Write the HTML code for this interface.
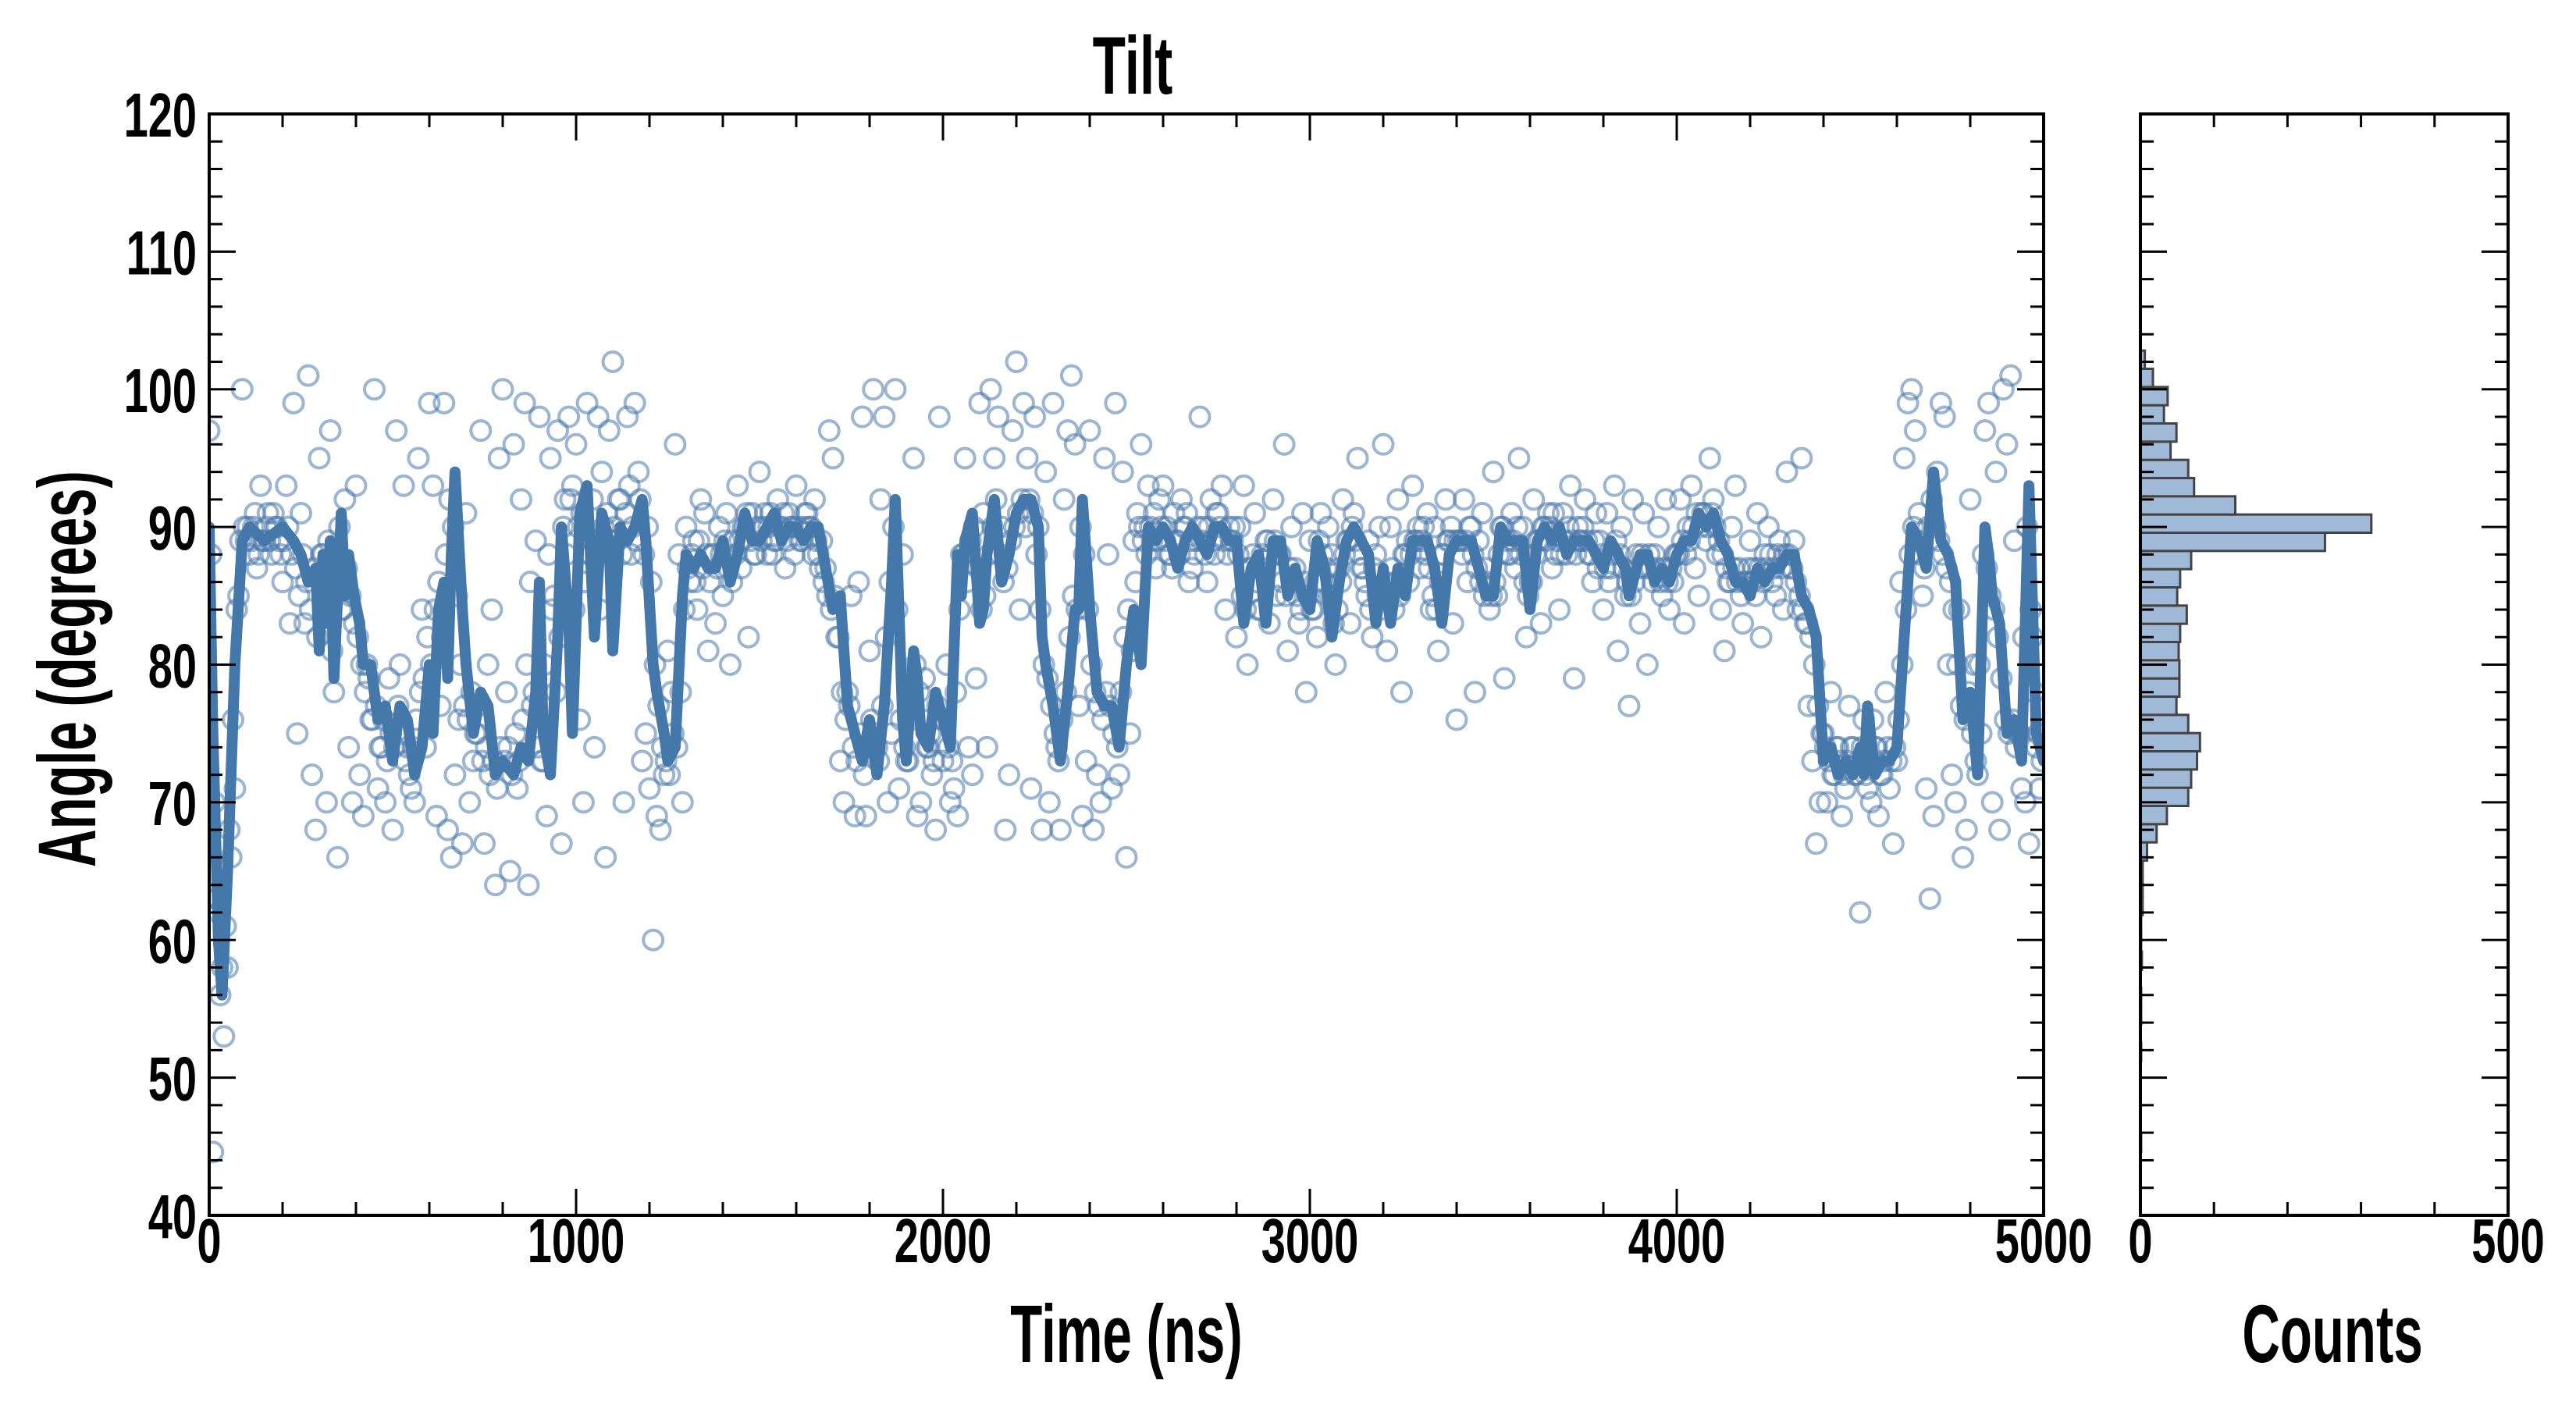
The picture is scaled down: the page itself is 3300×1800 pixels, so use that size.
<!DOCTYPE html>
<html><head><meta charset="utf-8"><style>
html,body{margin:0;padding:0;background:#fff}
svg{display:block}
text{font-family:"Liberation Sans",sans-serif;font-weight:bold;fill:#000}
</style></head>
<body>
<svg id="chart" width="3300" height="1800" viewBox="0 0 3300 1800" xmlns="http://www.w3.org/2000/svg"></svg>
<script>
const scatterStart = 0;
const scatterStep = 10;
const scatterValues = [
97,44.6,63,56,53,58,66,71,85,100,
89,88,90,87,93,89,91,88,90,89,
86,93,83,99,75,91,83,101,72,68,
95,88,70,97,78,66,84,92,74,70,
93,72,69,80,76,100,71,74,70,79,
68,97,80,93,74,71,70,95,84,74,
99,93,69,77,99,68,66,72,76,67,
91,70,73,75,97,67,80,84,64,95,
100,78,65,96,71,92,99,64,77,89,
98,73,69,95,85,97,67,92,98,93,
96,76,70,99,88,74,98,94,66,97,
102,89,92,70,98,88,99,94,73,75,
71,60,69,68,72,81,78,96,88,70,
90,86,89,84,92,91,81,88,83,90,
85,91,80,89,93,87,90,82,91,88,
94,90,88,91,89,92,90,87,91,90,
93,89,90,91,90,92,88,89,87,97,
95,82,73,70,78,85,69,86,98,69,
81,100,74,92,98,70,75,100,71,88,
73,77,95,69,70,79,74,72,68,98,
73,80,70,71,69,88,95,74,72,79,
99,91,74,100,95,98,90,68,72,97,
102,84,99,95,71,98,90,68,94,70,
99,74,68,92,97,101,96,77,69,73,
97,68,72,70,95,88,71,99,72,94,
66,75,89,91,96,90,93,89,87,92,
93,90,88,91,89,92,90,86,87,89,
98,90,86,92,88,91,93,84,90,89,
82,90,93,80,87,91,84,88,89,83,
92,85,88,96,81,90,87,83,91,78,
89,84,82,91,86,90,88,80,87,92,
89,83,91,95,87,86,89,82,88,90,
96,81,90,84,92,78,88,86,93,89,
87,90,91,84,90,81,88,92,89,83,
76,89,92,86,90,78,89,91,87,84,
94,85,90,79,88,91,87,95,90,82,
86,92,89,83,90,91,87,88,84,91,
88,93,79,90,89,92,88,86,91,89,
84,91,87,93,81,90,85,77,92,88,
83,91,80,87,88,90,85,92,84,86,
88,92,83,90,93,87,85,91,89,95,
92,88,84,81,86,90,93,87,83,86,
89,87,91,82,88,90,86,85,89,84,
94,87,89,84,95,83,77,73,67,70,
75,70,78,72,74,69,71,77,74,72,
62,76,71,70,74,69,72,78,71,67,
73,86,95,99,100,97,91,85,71,63,
69,94,99,98,80,72,70,84,66,68,
92,80,72,75,97,99,70,94,68,100,
96,101,89,75,71,70,67,82,74,71
];
const scatter2Start = 5;
const scatter2Step = 10;
const scatter2Values = [
88,70,62,58,61,68,76,84,89,90,
90,89,91,88,89,90,89,91,90,88,
89,90,88,87,85,88,86,84,87,82,
88,85,89,81,86,90,84,87,85,83,
82,80,78,79,76,77,74,76,73,75,
74,77,75,73,72,74,76,78,79,82,
80,84,86,82,88,92,90,85,80,77,
76,78,75,77,73,74,72,73,71,74,
73,74,72,75,73,76,80,86,78,74,
73,80,88,84,78,82,90,88,92,84,
90,91,86,88,92,89,84,90,91,89,
90,92,88,91,93,90,89,92,88,90,
86,80,77,74,73,72,75,74,78,84,
87,88,86,89,87,88,86,88,87,88,
89,87,86,88,89,90,91,89,88,90,
89,91,90,88,89,90,91,89,90,88,
90,89,91,90,88,89,87,86,85,84,
85,82,78,76,77,74,73,75,72,74,
76,75,73,77,82,86,90,84,76,74,
73,76,80,78,76,74,75,73,77,76,
76,74,73,78,84,88,86,89,90,87,
84,85,88,90,92,88,86,87,89,90,
91,92,90,92,91,88,84,80,79,77,
75,73,76,78,82,85,84,90,88,84,
80,78,77,76,78,77,75,74,78,82,
84,81,86,90,89,88,90,91,89,90,
89,88,87,89,88,90,91,89,88,90,
89,88,90,89,91,90,89,88,89,90,
88,85,84,87,88,86,84,87,89,88,
89,88,86,85,87,86,85,84,86,85,
84,86,89,88,87,85,83,84,86,88,
89,90,89,88,87,85,84,87,85,84,
86,85,87,86,85,88,89,88,89,90,
89,88,87,85,84,86,88,89,90,89,
89,88,89,90,88,87,86,85,86,85,
86,88,90,89,88,89,90,88,86,85,
86,88,89,90,89,90,91,89,88,89,
90,89,88,89,90,89,88,89,87,88,
87,86,88,89,88,87,86,85,86,87,
88,87,88,86,87,86,87,86,87,88,
88,89,88,89,90,91,90,91,90,91,
90,89,88,87,86,87,86,85,86,87,
86,85,87,86,87,88,87,88,87,88,
88,87,86,85,84,83,82,80,77,75,
74,73,72,74,73,72,73,74,72,73,
74,72,73,76,74,72,73,74,73,74,
76,80,84,88,90,89,88,87,90,92,
90,89,88,87,86,84,80,77,76,78,
75,73,80,88,87,85,84,82,79,76,
75,76,74,75,82,90,84,78,75,73
];
const lineTimes = [0,10,25,35,50,70,90,110,150,200,230,250,270,290,300,310,320,330,340,350,360,370,380,395,410,420,440,460,480,500,520,540,560,580,600,610,625,640,650,660,670,690,700,720,740,760,780,800,830,850,870,890,900,910,930,950,960,980,990,1010,1030,1050,1070,1090,1100,1120,1140,1160,1180,1190,1210,1220,1240,1250,1270,1290,1300,1320,1340,1360,1380,1400,1420,1440,1460,1480,1500,1520,1540,1560,1580,1600,1620,1640,1660,1680,1700,1720,1740,1760,1780,1800,1820,1840,1860,1870,1890,1900,1920,1930,1940,1960,1980,2000,2020,2040,2050,2060,2080,2100,2110,2120,2140,2160,2180,2200,2220,2240,2260,2270,2280,2300,2320,2340,2360,2370,2380,2400,2420,2440,2460,2480,2500,2520,2540,2560,2580,2600,2620,2640,2660,2680,2700,2720,2740,2760,2780,2800,2820,2840,2860,2880,2900,2920,2940,2960,2980,3000,3020,3040,3060,3080,3100,3120,3140,3160,3180,3200,3220,3240,3260,3280,3300,3320,3340,3360,3380,3400,3420,3440,3460,3480,3500,3520,3540,3560,3580,3600,3620,3640,3660,3680,3700,3720,3740,3760,3780,3800,3820,3840,3860,3870,3880,3900,3920,3940,3960,3980,4000,4020,4040,4060,4080,4100,4120,4140,4160,4180,4200,4220,4240,4260,4280,4300,4320,4340,4360,4380,4400,4420,4440,4460,4480,4500,4510,4520,4540,4560,4580,4600,4620,4640,4660,4680,4700,4720,4740,4760,4780,4800,4820,4840,4850,4860,4880,4900,4920,4940,4960,4980,5000];
const lineValues = [90,75,60,56,65,80,89,90,89,90,89,88,86,87,81,88,83,89,79,85,91,85,88,85,83,80,80,76,77,73,77,76,72,74,80,75,84,86,79,88,94,84,80,75,78,77,72,73,72,74,73,78,86,75,72,82,90,83,75,91,93,82,91,89,81,90,89,90,92,89,80,78,75,73,74,85,88,87,88,87,87,89,86,88,91,89,89,90,91,89,90,90,89,90,90,87,84,85,77,75,73,76,72,77,86,92,76,73,81,79,75,74,78,76,74,88,85,89,91,83,84,88,92,86,88,91,92,92,90,82,80,77,73,78,84,84,92,84,78,77,77,74,80,84,80,90,89,90,89,87,89,90,89,88,90,90,89,89,83,87,88,83,89,89,85,87,85,84,89,87,82,86,89,90,89,88,83,87,83,87,85,89,89,89,87,83,88,89,89,89,87,85,85,90,89,89,89,84,89,90,89,90,88,89,89,89,88,87,89,88,87,85,86,88,88,86,87,86,88,89,89,91,90,91,89,88,86,86,85,87,86,87,87,88,88,85,84,82,73,74,72,73,72,74,72,77,72,73,73,74,82,90,89,87,94,89,88,86,76,78,72,90,88,85,83,75,76,73,93,75,73];
const histCounts = [1,0,0,0,0,1,0,1,1,0,2,1,1,3,3,3,9,22,36,65,69,77,81,65,49,53,53,52,54,63,50,54,69,251,314,129,73,65,41,49,32,37,17,6];
const histBinStart = 44.6;
const histBinWidth = 1.323;
const yTickLabels = ["40","50","60","70","80","90","100","110","120"];
const xTickLabels = ["0","1000","2000","3000","4000","5000"];
const countTickLabels = ["0","500"];

const NS = "http://www.w3.org/2000/svg";
const svg = document.getElementById("chart");
const L = 268, R = 2618, T = 146, B = 1557;
const HL = 2742, HR = 3213;
const X = t => L + t / 5000 * (R - L);
const Y = v => B - (v - 40) / 80 * (B - T);
const HX = c => HL + c / 500 * (HR - HL);
function mk(tag, attrs, parent) {
  const e = document.createElementNS(NS, tag);
  for (const k in attrs) e.setAttribute(k, attrs[k]);
  (parent || svg).appendChild(e);
  return e;
}
function label(str, x, y, size, anchor, sx, rot) {
  const g = mk("g", {transform: "translate(" + x + "," + y + ")" + (rot ? " rotate(" + rot + ")" : "") + " scale(" + sx + ",1)"});
  const t = mk("text", {x: 0, y: 0, "font-size": size, "text-anchor": anchor}, g);
  t.textContent = str;
  return t;
}

const defs = mk("defs", {});
const cp = mk("clipPath", {id: "clipMain"}, defs);
mk("rect", {x: L, y: T, width: R - L, height: B - T}, cp);

const scat = mk("g", {"clip-path": "url(#clipMain)", fill: "none", stroke: "#4a78ab", "stroke-opacity": "0.55", "stroke-width": "4"});


scatterValues.forEach((v, i) => {
  const c = mk("circle", {cx: X(scatterStart + i * scatterStep), cy: Y(v), r: 12.5}, scat);
  
  
});
scatter2Values.forEach((v, i) => {
  const c = mk("circle", {cx: X(scatter2Start + i * scatter2Step), cy: Y(v), r: 12.5}, scat);
  
  
});

const pts = lineTimes.map((t, i) => X(t).toFixed(1) + "," + Y(lineValues[i]).toFixed(1)).join(" ");
const pl = mk("polyline", {points: pts, fill: "none", stroke: "#4477aa", "stroke-width": 14, "stroke-linejoin": "round", "stroke-linecap": "round", "clip-path": "url(#clipMain)"});



histCounts.forEach((c, i) => {
  if (c <= 0) return;
  const lo = histBinStart + i * histBinWidth, hi = lo + histBinWidth;
  const r = mk("rect", {x: HL, y: Y(hi), width: HX(c) - HL, height: Y(lo) - Y(hi), fill: "#a0b9d6", stroke: "#444", "stroke-width": 3});
  
  
});

function frame(x0, x1, name) {
  const f = mk("rect", {x: x0, y: T, width: x1 - x0, height: B - T, fill: "none", stroke: "#000", "stroke-width": 4});
  
  
  for (let v = 40; v <= 120; v += 2) {
    const len = v % 10 === 0 ? 34 : 17;
    mk("line", {x1: x0, x2: x0 + len, y1: Y(v), y2: Y(v), stroke: "#000", "stroke-width": 3});
    mk("line", {x1: x1, x2: x1 - len, y1: Y(v), y2: Y(v), stroke: "#000", "stroke-width": 3});
  }
}
frame(L, R, "main-plot-frame");
frame(HL, HR, "histogram-frame");
for (let t = 0; t <= 5000; t += 200) {
  const len = t % 1000 === 0 ? 34 : 17;
  mk("line", {x1: X(t), x2: X(t), y1: B, y2: B - len, stroke: "#000", "stroke-width": 3});
  mk("line", {x1: X(t), x2: X(t), y1: T, y2: T + len, stroke: "#000", "stroke-width": 3});
}
for (let c = 0; c <= 500; c += 100) {
  const len = (c === 0 || c === 500) ? 34 : 17;
  mk("line", {x1: HX(c), x2: HX(c), y1: B, y2: B - len, stroke: "#000", "stroke-width": 3});
  mk("line", {x1: HX(c), x2: HX(c), y1: T, y2: T + len, stroke: "#000", "stroke-width": 3});
}

yTickLabels.forEach(s => {
  const t = label(s, 252, Y(+s) + 29, 80, "end", 0.7);
  
  
});
xTickLabels.forEach(s => {
  const t = label(s, X(+s), 1617, 80, "middle", 0.7);
  
  
});
countTickLabels.forEach(s => {
  const t = label(s, HX(+s), 1617, 80, "middle", 0.7);
  
  
});

const tt = label("Tilt", 1451, 120, 105, "middle", 0.66);


const xt = label("Time (ns)", 1443, 1745, 105, "middle", 0.64);


const ct = label("Counts", 2988, 1745, 105, "middle", 0.64);


const yt = label("Angle (degrees)", 122, 857, 105, "middle", 0.64, -90);


</script>
</body></html>
